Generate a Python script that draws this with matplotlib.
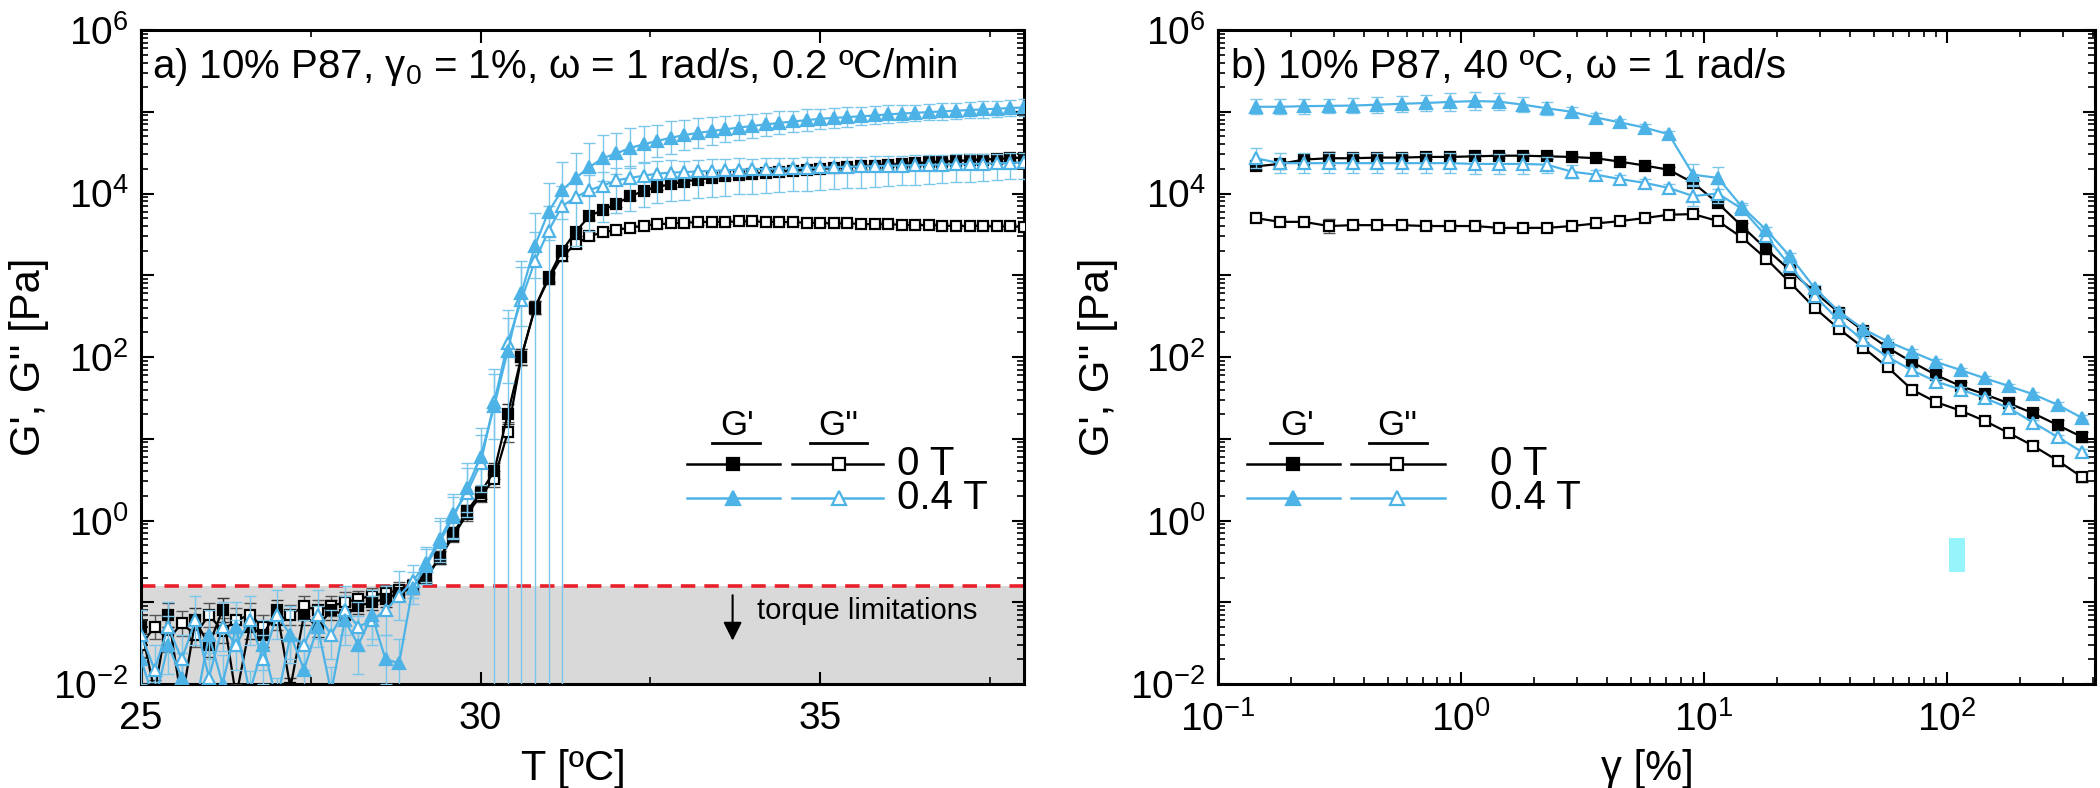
import matplotlib
matplotlib.use("Agg")
import matplotlib.pyplot as plt
import matplotlib.ticker as mticker
from matplotlib.patches import Rectangle
import numpy as np

plt.rcParams['font.family'] = ['Liberation Sans', 'DejaVu Sans']
plt.rcParams['mathtext.fontset'] = 'custom'
plt.rcParams['mathtext.rm'] = 'Liberation Sans'
plt.rcParams['mathtext.it'] = 'Liberation Sans:italic'
plt.rcParams['mathtext.default'] = 'regular'

BLUE = '#4DB3E6'
EBLUE = '#7CC6EC'

# ---- panel a: temperature ramp ----
T = [25.0, 25.2, 25.4, 25.6, 25.8, 26.0, 26.2, 26.4, 26.6, 26.8,
     27.0, 27.2, 27.4, 27.6, 27.8, 28.0, 28.2, 28.4, 28.6, 28.8,
     29.0, 29.2, 29.4, 29.6, 29.8, 30.0, 30.2, 30.4, 30.6, 30.8,
     31.0, 31.2, 31.4, 31.6, 31.8, 32.0, 32.2, 32.4, 32.6, 32.8,
     33.0, 33.2, 33.4, 33.6, 33.8, 34.0, 34.2, 34.4, 34.6, 34.8,
     35.0, 35.2, 35.4, 35.6, 35.8, 36.0, 36.2, 36.4, 36.6, 36.8,
     37.0, 37.2, 37.4, 37.6, 37.8, 38.0]

a_gp0 = [0.05, 0.008, 0.07, 0.006, 0.06, 0.03, 0.08, 0.007, 0.05, 0.04,
         0.08, 0.009, 0.07, 0.05, 0.08, 0.07, 0.09, 0.1, 0.11, 0.13,
         0.15, 0.2, 0.35, 0.7, 1.3, 2.2, 4, 20, 100, 400,
         950, 2000, 3400, 5300, 6300, 7500, 9200, 10800, 12000, 13000,
         14000, 14800, 15500, 16200, 16800, 17500, 18000, 18500, 19000, 19500,
         20000, 20500, 21000, 21500, 22000, 22500, 23000, 23500, 24000, 24500,
         25000, 25500, 26000, 26500, 27000, 27500]

a_gpp0 = [0.03, 0.05, 0.035, 0.055, 0.04, 0.07, 0.045, 0.06, 0.07, 0.05,
          0.06, 0.07, 0.09, 0.08, 0.09, 0.1, 0.11, 0.12, 0.13, 0.14,
          0.16, 0.21, 0.35, 0.65, 1.2, 2.0, 3.2, 12, 100, 400,
          900, 1700, 2400, 3000, 3350, 3600, 3800, 4050, 4200, 4300,
          4400, 4450, 4500, 4500, 4550, 4550, 4500, 4500, 4450, 4400,
          4350, 4300, 4300, 4250, 4200, 4200, 4150, 4100, 4100, 4050,
          4000, 4000, 4000, 3950, 3950, 3900]

a_gp4 = [0.02, 0.006, 0.03, 0.012, 0.005, 0.04, 0.01, 0.05, 0.008, 0.03,
         0.006, 0.04, 0.015, 0.05, 0.008, 0.06, 0.03, 0.07, 0.02, 0.018,
         0.15, 0.28, 0.55, 1.1, 2.5, 6, 25, 120, 600, 2300,
         6000, 11000, 15500, 21000, 27000, 31000, 36000, 40000, 44000, 48000,
         52000, 55000, 58000, 61000, 64000, 67000, 70000, 73000, 76000, 79000,
         82000, 84000, 86000, 88000, 90000, 93000, 95000, 97000, 99000, 101000,
         103000, 105000, 107000, 109000, 111000, 113000]

a_gpp4 = [0.04, 0.015, 0.05, 0.02, 0.06, 0.012, 0.05, 0.03, 0.06, 0.02,
          0.07, 0.04, 0.03, 0.07, 0.04, 0.08, 0.05, 0.06, 0.08, 0.12,
          0.18, 0.3, 0.6, 1.2, 2.2, 5, 28, 150, 500, 1500,
          3500, 7000, 9000, 11000, 12500, 14500, 15500, 16500, 17500, 18000,
          18300, 18600, 18900, 19200, 19500, 19800, 20000, 20200, 20400, 20600,
          20800, 21000, 21200, 21400, 21600, 21800, 22000, 22200, 22400, 22600,
          22800, 23000, 23200, 23400, 23600, 24000]

# error half-widths in decades
a_err_black = [0.15, 0.15, 0.15, 0.15, 0.15, 0.15, 0.15, 0.15, 0.15, 0.15,
               0.12, 0.12, 0.12, 0.12, 0.12, 0.12, 0.1, 0.1, 0.1, 0.1,
               0.08, 0.08, 0.08, 0.08, 0.08, 0.08, 0.1, 0.12, 0.1, 0.08,
               0.06, 0.06, 0.05, 0.05, 0.05, 0.04, 0.04, 0.04, 0.04, 0.04,
               0.03, 0.03, 0.03, 0.03, 0.03, 0.03, 0.03, 0.03, 0.03, 0.03,
               0.03, 0.03, 0.03, 0.03, 0.03, 0.03, 0.03, 0.03, 0.03, 0.03,
               0.03, 0.03, 0.03, 0.03, 0.03, 0.03]

a_err_gp4 = [0.3, 0.25, 0.35, 0.3, 0.25, 0.3, 0.35, 0.3, 0.25, 0.3,
             0.3, 0.35, 0.3, 0.25, 0.3, 0.3, 0.35, 0.3, 0.3, 0.3,
             0.2, 0.2, 0.25, 0.25, 0.3, 0.35, 0.4, 0.4, 0.4, 0.4,
             0.35, 0.35, 0.3, 0.3, 0.28, 0.25, 0.25, 0.22, 0.2, 0.2,
             0.18, 0.18, 0.17, 0.16, 0.15, 0.15, 0.14, 0.14, 0.13, 0.13,
             0.12, 0.12, 0.12, 0.11, 0.11, 0.11, 0.1, 0.1, 0.1, 0.1,
             0.1, 0.1, 0.1, 0.1, 0.1, 0.1]

a_elo_gpp4 = [0.3, 0.3, 0.3, 0.3, 0.3, 0.3, 0.3, 0.3, 0.3, 0.3,
              0.3, 0.3, 0.3, 0.3, 0.3, 0.3, 0.3, 0.3, 0.3, 0.3,
              0.2, 0.25, 0.25, 0.3, 0.3, 0.35, 9, 9, 9, 9,
              9, 9, 0.6, 0.5, 0.45, 0.4, 0.4, 0.38, 0.36, 0.35,
              0.34, 0.33, 0.32, 0.31, 0.3, 0.3, 0.29, 0.29, 0.28, 0.28,
              0.27, 0.27, 0.26, 0.26, 0.25, 0.25, 0.24, 0.24, 0.23, 0.23,
              0.22, 0.22, 0.21, 0.21, 0.2, 0.2]

a_ehi_gpp4 = [0.3, 0.3, 0.3, 0.3, 0.3, 0.3, 0.3, 0.3, 0.3, 0.3,
              0.3, 0.3, 0.3, 0.3, 0.3, 0.3, 0.3, 0.3, 0.3, 0.3,
              0.2, 0.2, 0.25, 0.25, 0.3, 0.35, 0.4, 0.4, 0.4, 0.35,
              0.3, 0.25, 0.2, 0.18, 0.16, 0.15, 0.15, 0.15, 0.15, 0.15,
              0.14, 0.14, 0.14, 0.14, 0.14, 0.13, 0.13, 0.13, 0.13, 0.13,
              0.13, 0.13, 0.12, 0.12, 0.12, 0.12, 0.12, 0.12, 0.12, 0.12,
              0.12, 0.12, 0.12, 0.12, 0.12, 0.12]

torque_limit = 0.16

# ---- panel b: strain sweep ----
gamma = [0.143, 0.180, 0.226, 0.285, 0.359, 0.452, 0.569, 0.716, 0.902, 1.14,
         1.43, 1.80, 2.26, 2.85, 3.59, 4.52, 5.69, 7.16, 9.02, 11.4,
         14.3, 18.0, 22.6, 28.5, 35.9, 45.2, 56.9, 71.6, 90.2, 114,
         143, 180, 226, 285, 359]

b_gp0 = [21500, 23000, 26000, 27000, 27000, 27500, 27500, 28000, 28000, 28500,
         29000, 29000, 28500, 28000, 27000, 24500, 22000, 19500, 13500, 7600,
         4000, 2100, 1150, 620, 350, 210, 130, 87, 60, 44,
         35, 27, 20.5, 14.7, 10.5]

b_gpp0 = [5000, 4500, 4500, 4000, 4100, 4100, 4100, 4000, 4000, 4000,
          3800, 3800, 3800, 4000, 4300, 4600, 5000, 5500, 5600, 4600,
          2900, 1600, 810, 400, 220, 130, 75, 40, 28, 22,
          16.5, 11.7, 8.2, 5.4, 3.4]

b_gp4 = [115000, 115000, 117000, 118000, 119000, 122000, 125000, 128000, 132000, 135000,
         133000, 122000, 110000, 100000, 85000, 74000, 64000, 53000, 17000, 15500,
         6900, 3600, 1700, 700, 360, 220, 155, 116, 87, 69,
         55, 44, 35, 26, 18]

b_gpp4 = [27000, 23500, 23500, 23500, 23500, 23500, 23500, 23500, 23500, 23000,
          23000, 23000, 22500, 18500, 17000, 15000, 13500, 11700, 9300, 10000,
          6500, 3000, 1300, 560, 280, 160, 100, 69, 50, 40,
          31.5, 23.6, 15.8, 10.5, 6.9]

b_err_black = [0.04, 0.04, 0.03, 0.08, 0.03, 0.03, 0.03, 0.03, 0.03, 0.03,
               0.03, 0.03, 0.03, 0.03, 0.03, 0.03, 0.03, 0.03, 0.04, 0.04,
               0.04, 0.04, 0.04, 0.04, 0.04, 0.04, 0.04, 0.05, 0.05, 0.05,
               0.05, 0.05, 0.05, 0.06, 0.06]

b_err_gp4 = [0.09, 0.09, 0.09, 0.09, 0.09, 0.1, 0.1, 0.1, 0.11, 0.11,
             0.1, 0.09, 0.08, 0.06, 0.05, 0.04, 0.04, 0.04, 0.13, 0.13,
             0.05, 0.04, 0.04, 0.03, 0.03, 0.03, 0.03, 0.03, 0.03, 0.03,
             0.03, 0.03, 0.03, 0.03, 0.03]

b_err_gpp4 = [0.12, 0.12, 0.12, 0.12, 0.12, 0.12, 0.12, 0.12, 0.12, 0.12,
              0.12, 0.12, 0.1, 0.08, 0.06, 0.05, 0.05, 0.05, 0.12, 0.12,
              0.05, 0.04, 0.04, 0.03, 0.03, 0.03, 0.03, 0.03, 0.03, 0.03,
              0.03, 0.03, 0.03, 0.03, 0.03]


def series(ax, x, y, elo, ehi, color, ecolor, marker, filled, ms, z):
    y = np.asarray(y, dtype=float)
    lo = y - y / 10 ** np.asarray(elo)
    hi = y * 10 ** np.asarray(ehi) - y
    ax.errorbar(x, y, yerr=[lo, hi], fmt='none', ecolor=ecolor, elinewidth=1.0,
                capsize=4, capthick=1.0, zorder=z)
    ax.plot(x, y, color=color, lw=1.6, marker=marker, ms=ms,
            mfc=color if filled else 'white', mec=color, mew=1.6, zorder=z + 0.5)


def log_labels(v, pos):
    e = int(round(np.log10(v)))
    if e % 2 == 0:
        return r'$\mathdefault{10^{%d}}$' % e
    return ''


def style(ax):
    ax.set_yscale('log')
    ax.set_ylim(1e-2, 1e6)
    ax.yaxis.set_major_locator(mticker.LogLocator(base=10, numticks=20))
    ax.yaxis.set_major_formatter(mticker.FuncFormatter(log_labels))
    ax.yaxis.set_minor_locator(mticker.LogLocator(base=10, subs=np.arange(2, 10), numticks=20))
    ax.yaxis.set_minor_formatter(mticker.NullFormatter())
    ax.tick_params(which='both', direction='in', top=True, right=True, labelsize=28)
    ax.tick_params(which='major', length=9, width=1.5)
    ax.tick_params(which='minor', length=5, width=1.2)
    ax.tick_params(axis='x', pad=12)
    ax.tick_params(axis='y', pad=9)
    for s in ax.spines.values():
        s.set_linewidth(2.2)
    ax.set_ylabel("G', G'' [Pa]", fontsize=30)


def legend(ax, g1, g2, u1, u2, l1, l2, m1, m2, tx):
    ax.text(g1, 0.396, "G'", transform=ax.transAxes, fontsize=25, ha='center', va='center')
    ax.text(g2, 0.396, "G''", transform=ax.transAxes, fontsize=25, ha='center', va='center')
    ax.plot(u1, [0.368, 0.368], transform=ax.transAxes, color='black', lw=2, clip_on=False)
    ax.plot(u2, [0.368, 0.368], transform=ax.transAxes, color='black', lw=2, clip_on=False)
    rows = [(0.337, 'black', 's', 8, '0 T'), (0.285, BLUE, '^', 9.5, '0.4 T')]
    for yy, c, mk, ms, lab in rows:
        ax.plot(l1, [yy, yy], transform=ax.transAxes, color=c, lw=1.8)
        ax.plot([m1], [yy], transform=ax.transAxes, color=c, marker=mk, ms=ms, mfc=c, mec=c, mew=1.6)
        ax.plot(l2, [yy, yy], transform=ax.transAxes, color=c, lw=1.8)
        ax.plot([m2], [yy], transform=ax.transAxes, color=c, marker=mk, ms=ms, mfc='white', mec=c, mew=1.6)
        ax.text(tx, yy, lab, transform=ax.transAxes, fontsize=29, va='center')


fig = plt.figure(figsize=(21, 7.88), dpi=100)
ax_a = fig.add_axes([141 / 2100, 1 - 684 / 788, 883 / 2100, 654 / 788])
ax_b = fig.add_axes([1218 / 2100, 1 - 684 / 788, 877 / 2100, 654 / 788])

# panel a
style(ax_a)
ax_a.axhspan(1e-3, torque_limit, color='#d9d9d9', lw=0, zorder=0)
ax_a.axhline(torque_limit, color='#e8202a', lw=2.6, ls=(0, (4, 2.5)), zorder=1)
series(ax_a, T, a_gpp0, a_err_black, a_err_black, 'black', '#555555', 's', False, 7.5, 3)
series(ax_a, T, a_gp0, a_err_black, a_err_black, 'black', '#333333', 's', True, 7.5, 3)
series(ax_a, T, a_gpp4, a_elo_gpp4, a_ehi_gpp4, BLUE, EBLUE, '^', False, 9, 4)
series(ax_a, T, a_gp4, a_err_gp4, a_err_gp4, BLUE, EBLUE, '^', True, 9, 4)
ax_a.set_xlim(25, 38)
ax_a.xaxis.set_major_locator(mticker.MultipleLocator(5))
ax_a.xaxis.set_minor_locator(mticker.MultipleLocator(2.5))
ax_a.set_xlabel('T [ºC]', fontsize=30)
ax_a.xaxis.set_label_coords(0.49, -0.1)
ax_a.yaxis.set_label_coords(-0.104, 0.5)
ax_a.text(0.013, 0.943, 'a) 10% P87, γ$_0$ = 1%, ω = 1 rad/s, 0.2 ºC/min',
          transform=ax_a.transAxes, fontsize=29, va='center')
ax_a.annotate('', xy=(0.670, 0.062), xytext=(0.670, 0.140), xycoords='axes fraction',
              arrowprops=dict(arrowstyle='-|>', color='black', lw=1.5, mutation_scale=28))
ax_a.text(0.698, 0.112, 'torque limitations', transform=ax_a.transAxes, fontsize=21, va='center')
legend(ax_a, 0.675, 0.790, [0.647, 0.701], [0.758, 0.822], [0.618, 0.724], [0.737, 0.840],
       0.670, 0.790, 0.856)

# panel b
style(ax_b)
ax_b.set_xscale('log')
ax_b.set_xlim(0.1, 406)
ax_b.xaxis.set_major_locator(mticker.LogLocator(base=10, numticks=10))
ax_b.xaxis.set_minor_locator(mticker.LogLocator(base=10, subs=np.arange(2, 10), numticks=10))
ax_b.xaxis.set_minor_formatter(mticker.NullFormatter())
series(ax_b, gamma, b_gpp0, b_err_black, b_err_black, 'black', '#555555', 's', False, 7.5, 3)
series(ax_b, gamma, b_gp0, b_err_black, b_err_black, 'black', '#333333', 's', True, 7.5, 3)
series(ax_b, gamma, b_gpp4, b_err_gpp4, b_err_gpp4, BLUE, EBLUE, '^', False, 9, 4)
series(ax_b, gamma, b_gp4, b_err_gp4, b_err_gp4, BLUE, EBLUE, '^', True, 9, 4)
ax_b.set_xlabel('γ [%]', fontsize=30)
ax_b.xaxis.set_label_coords(0.49, -0.1)
ax_b.yaxis.set_label_coords(-0.114, 0.5)
ax_b.text(0.015, 0.943, 'b) 10% P87, 40 ºC, ω = 1 rad/s',
          transform=ax_b.transAxes, fontsize=29, va='center')
legend(ax_b, 0.090, 0.204, [0.059, 0.119], [0.172, 0.238], [0.033, 0.139], [0.152, 0.259],
       0.086, 0.204, 0.310)
ax_b.add_patch(Rectangle((0.834, 0.171), 0.018, 0.052, transform=ax_b.transAxes,
                         facecolor='#96f4fb', edgecolor='none', zorder=5))

fig.savefig('out.png', dpi=100)
